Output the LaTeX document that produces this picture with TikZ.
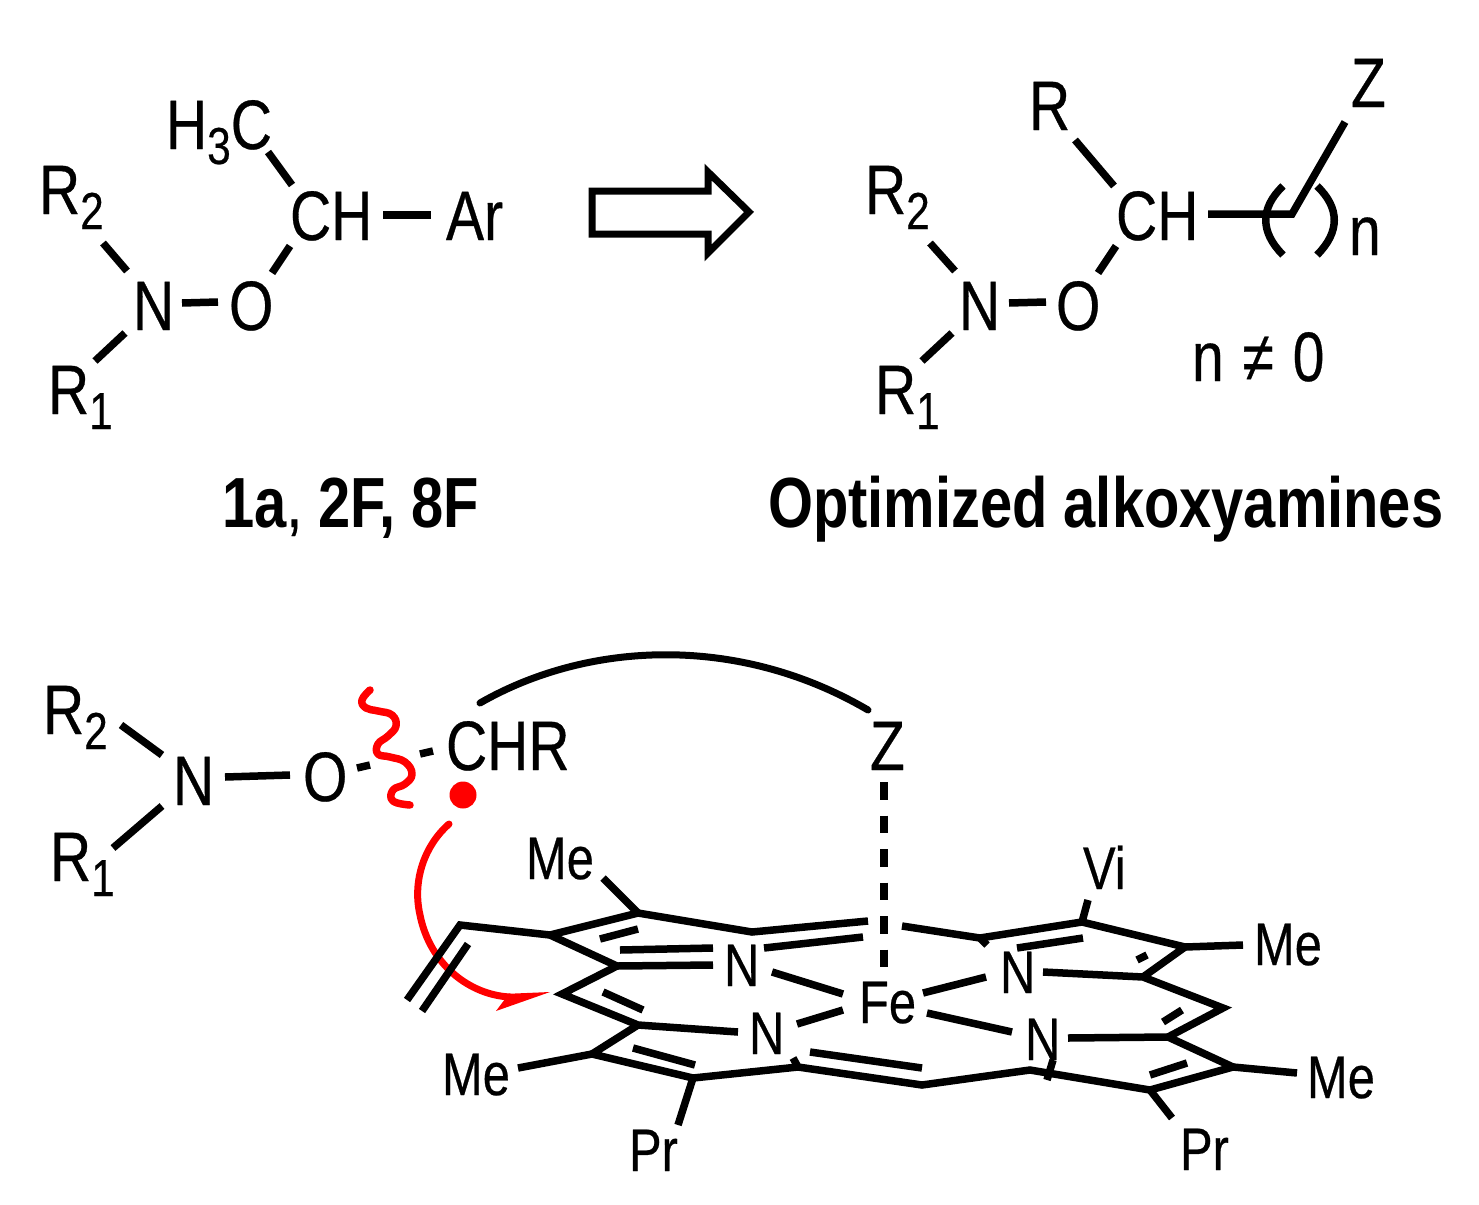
\documentclass[tikz,border=0pt]{standalone}
\usepackage{fontspec}
\setmainfont{Liberation Sans}
\newfontfamily\lf[FakeStretch=0.815,FakeBold=0.4]{Liberation Sans}
\newfontfamily\bfb[FakeStretch=0.815]{Liberation Sans}
\newcommand{\bigtxt}{\fontsize{70}{70}\selectfont\lf}
\newcommand{\smalltxt}{\fontsize{60}{60}\selectfont\lf}
\newcommand{\lowi}[1]{\raisebox{-15pt}{\fontsize{52}{52}\selectfont\lf #1}}
\definecolor{radred}{RGB}{255,0,0}
\tikzset{
  lbl/.style={anchor=base west,inner sep=0pt,outer sep=0pt,text=black,font=\bigtxt},
  slbl/.style={lbl,font=\smalltxt},
  blbl/.style={lbl,font=\fontsize{71}{71}\selectfont\bfb\bfseries},
  bond/.style={draw=black,line width=7.5pt},
  redline/.style={draw=radred,line width=7.5pt,line cap=round,line join=round},
}
\begin{document}
\begin{tikzpicture}[x=1pt,y=-1pt]
\useasboundingbox (0,0) rectangle (1479,1204);
% ---- texts, top left
\node[lbl] (tlH) at (166,149) {H\lowi{3}C};
\node[lbl] (tlRb) at (39,214) {R\lowi{2}};
\node[lbl] (tlN) at (133,330) {N};
\node[lbl] (tlO) at (229,330) {O};
\node[lbl] (tlRa) at (48,414) {R\lowi{1}};
\node[lbl] (tlCH) at (290,240) {CH};
\node[lbl] (tlAr) at (446,240) {Ar};
\node[blbl] (capA) at (222,527) {1a{\mdseries\lf,} 2F, 8F};
% ---- texts, top right
\node[lbl] (trR) at (1029,130) {R};
\node[lbl] (trZ) at (1351,107) {Z};
\node[lbl] (trRb) at (865,214) {R\lowi{2}};
\node[lbl] (trN) at (959,330) {N};
\node[lbl] (trO) at (1056,330) {O};
\node[lbl] (trRa) at (875,414) {R\lowi{1}};
\node[lbl] (trCH) at (1116,240) {CH};
\node[lbl] (trn) at (1349,255) {n};
\node[lbl] (trne) at (1192,381) {n\hspace{3pt} ≠\hspace{3pt} 0};
\node[blbl] (capB) at (768,527) {Optimized alkoxyamines};
% ---- texts, bottom
\node[lbl] (bRb) at (43,734) {R\lowi{2}};
\node[lbl] (bN) at (173,805) {N};
\node[lbl] (bO) at (303,801) {O};
\node[lbl] (bRa) at (50,881) {R\lowi{1}};
\node[lbl] (bCHR) at (446,770) {CHR};
\node[lbl] (bZ) at (870,770) {Z};
\node[slbl] (pMa) at (526,879) {Me};
\node[slbl] (pVi) at (1083,889) {Vi};
\node[slbl] (pMb) at (1254,965) {Me};
\node[slbl] (pMc) at (1307,1098) {Me};
\node[slbl] (pPa) at (1180,1170) {Pr};
\node[slbl] (pPb) at (629,1171) {Pr};
\node[slbl] (pMd) at (442,1095) {Me};
\node[slbl] (pNa) at (724,986) {N};
\node[slbl] (pNb) at (749,1054) {N};
\node[slbl] (pNc) at (1000,993) {N};
\node[slbl] (pNd) at (1025,1060) {N};
\node[slbl] (pFe) at (859,1023) {Fe};
% ---- top left bonds
\draw[bond] (103,243) coordinate (c1) -- (127,271) coordinate (c2);
\draw[bond] (182,303) coordinate (c3) -- (218,302) coordinate (c4);
\draw[bond] (95,361) coordinate (c5) -- (125,333) coordinate (c6);
\draw[bond] (272,273) coordinate (c7) -- (290,246) coordinate (c8);
\draw[bond] (268,152) coordinate (c9) -- (292,185) coordinate (c10);
\draw[bond] (383,215) coordinate (c11) -- (431,215) coordinate (c12);
% ---- block arrow
\draw[draw=black,line width=7pt,miter limit=10] (592,191) -- (708,191) -- (708,172) -- (749,212) -- (708,253) -- (708,234) -- (592,234) -- cycle;
% ---- top right bonds
\draw[bond] (930,243) coordinate (d1) -- (955,271) coordinate (d2);
\draw[bond] (1009,303) coordinate (d3) -- (1046,302) coordinate (d4);
\draw[bond] (922,361) coordinate (d5) -- (952,333) coordinate (d6);
\draw[bond] (1098,273) coordinate (d7) -- (1116,246) coordinate (d8);
\draw[bond] (1075,140) coordinate (d9) -- (1114,186) coordinate (d10);
\draw[bond,line join=miter] (1208,214) coordinate (d11) -- (1292,214) coordinate (d12) -- (1345,122) coordinate (d13);
\draw[bond] (1283,186) .. controls (1260,208) and (1260,232) .. (1283,255);
\draw[bond] (1317,186) .. controls (1340,208) and (1340,232) .. (1317,255);
% ---- bottom left
\draw[bond] (121,725) coordinate (e1) -- (162,755) coordinate (e2);
\draw[bond] (225,777) coordinate (e3) -- (290,775) coordinate (e4);
\draw[bond] (113,848) coordinate (e5) -- (162,806) coordinate (e6);
\draw[bond] (357,768) coordinate (e7) -- (370,765) coordinate (e8);
\draw[bond] (420,754) coordinate (e9) -- (433,751) coordinate (e10);
\draw[draw=black,line width=7pt,line cap=round] (480,703) coordinate (e11) .. controls (590,640) and (740,635) .. (868,710) coordinate (e12);
\draw[draw=black,line width=8pt,dash pattern=on 17.5pt off 16pt] (884,782) coordinate (e13) -- (884,968) coordinate (e14);
% ---- red
\draw[redline] plot[smooth,tension=.75] coordinates {(370,690) (362,700) (366,708) (378,711) (392,715) (396,726) (388,736) (378,744) (378,754) (390,757) (405,762) (412,774) (405,784) (393,790) (393,801) (410,805)};
\fill[radred] (463,795) circle (13.5);
\draw[draw=radred,line width=7pt,line cap=round] (449,824) .. controls (425,845) and (412,880) .. (420,915) .. controls (430,965) and (470,995) .. (510,997);
\fill[radred] (550,992) -- (496,1011) -- (505,999) -- (503,994) -- cycle;
% ---- porphyrin
\foreach \n/\p in {v/{460,925},a/{550,935},b/{638,913},c/{752,932},d/{868,921},e/{617,966},f/{562,994},g/{638,1025},h/{592,1054},i/{693,1078},j/{798,1067},k/{922,1085},l/{1030,1070},m/{1150,1090},n/{1233,1067},o/{1168,1037},p/{1223,1008},q/{1143,977},r/{1185,947},s/{1082,922},t/{980,938},u/{902,926}}
  {\coordinate (P\n) at (\p);}
\draw[bond,line join=miter] (407,1000) coordinate (Pv1) -- (Pv) -- (Pa) -- (Pb) -- (Pc) -- (Pd);
\draw[bond] (468,944) coordinate (Pv2) -- (422,1011) coordinate (Pv3);
\draw[bond] (600,939) -- (638,929);
\draw[bond] (764,948) -- (863,937);
\draw[bond] (620,950) -- (713,948);
\draw[bond,line join=miter] (Pa) -- (Pe) -- (713,965);
\draw[bond,line join=miter] (Pe) -- (Pf) -- (Pg) -- (738,1032);
\draw[bond] (603,992) -- (643,1010);
\draw[bond,line join=miter] (Pg) -- (Ph) -- (Pi) -- (Pj) -- (Pk) -- (Pl) -- (Pm) -- (Pn) -- (Po) -- (1068,1038);
\draw[bond] (518,1068) -- (Ph);
\draw[bond] (633,1048) -- (695,1065);
\draw[bond] (Pi) -- (678,1125);
\draw[bond] (793,1058) -- (Pj);
\draw[bond] (810,1052) -- (922,1068);
\draw[bond] (1053,1060) -- (1047,1080);
\draw[bond] (1150,1075) -- (1187,1063);
\draw[bond] (Pn) -- (1297,1073);
\draw[bond] (Pm) -- (1172,1118);
\draw[bond,line join=miter] (Po) -- (Pp) -- (Pq) -- (1043,972);
\draw[bond] (1163,1022) -- (1182,1010);
\draw[bond,line join=miter] (Pq) -- (Pr) -- (Ps) -- (Pt) -- (Pu);
\draw[bond] (1137,960) -- (1147,955);
\draw[bond] (Pr) -- (1243,945);
\draw[bond] (Ps) -- (1088,900);
\draw[bond] (Pt) -- (987,945);
\draw[bond] (1017,948) -- (1083,938);
\draw[bond] (603,878) -- (Pb);
\draw[bond] (772,972) -- (843,994);
\draw[bond] (797,1024) -- (843,1010);
\draw[bond] (923,993) -- (986,977);
\draw[bond] (927,1013) -- (1012,1032);
\end{tikzpicture}
\end{document}
